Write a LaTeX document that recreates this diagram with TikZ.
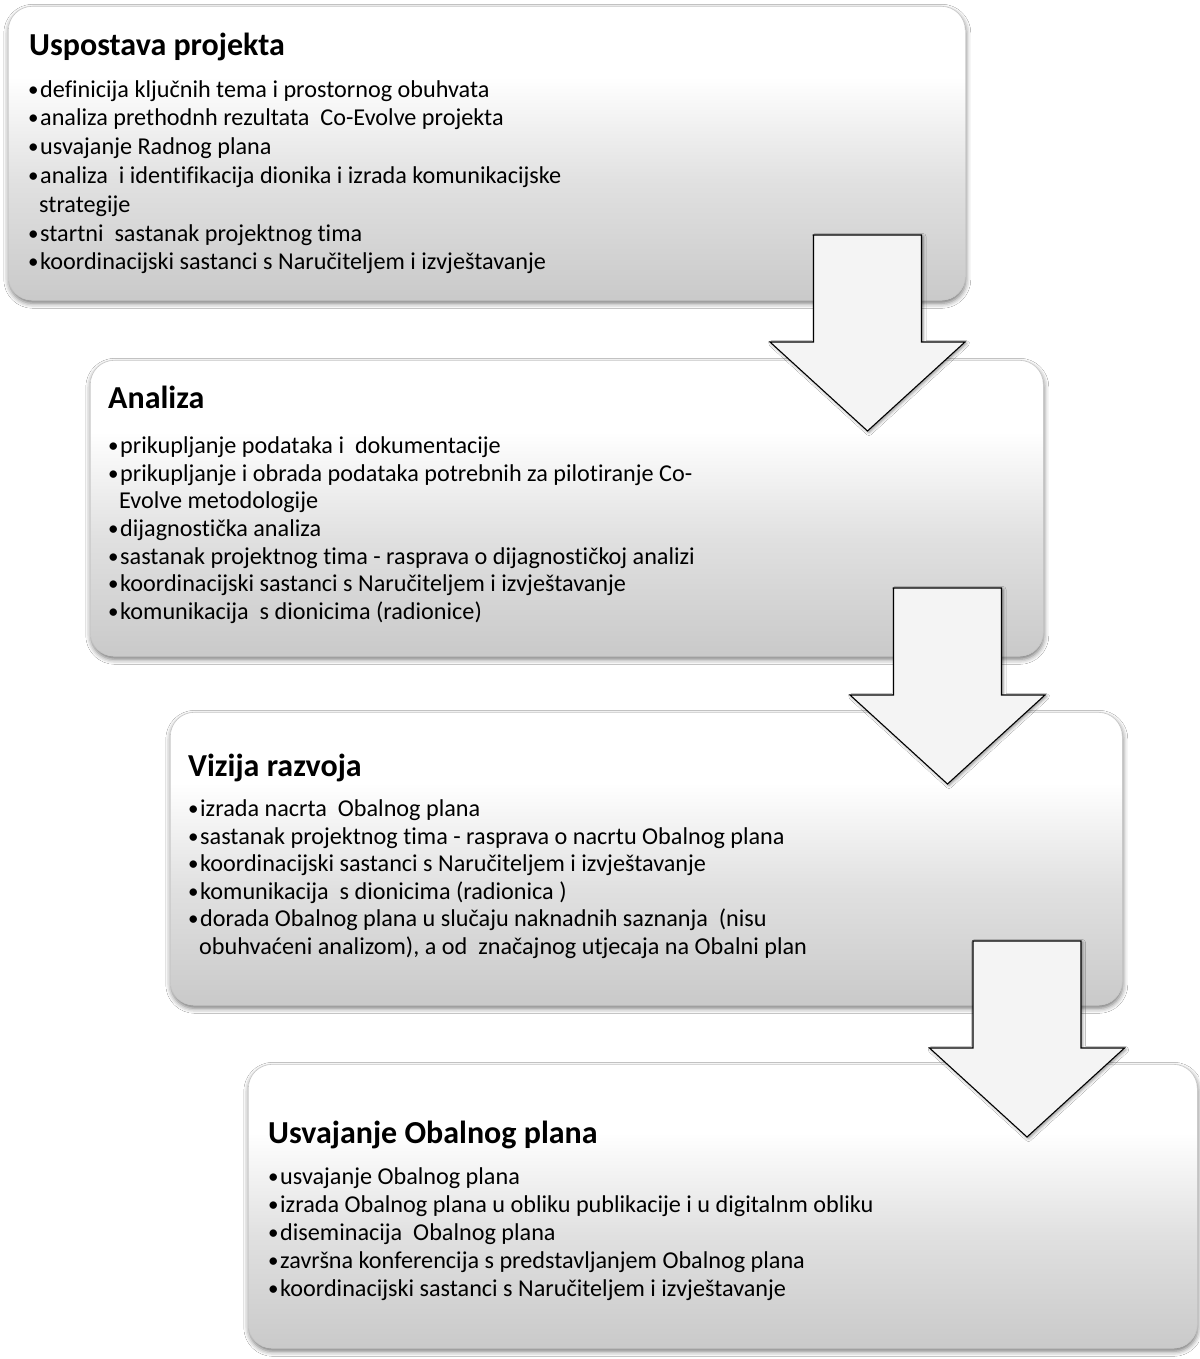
\documentclass[tikz,border=0pt]{standalone}
\usepackage{fontspec}
\setmainfont{Carlito}[Ligatures=NoCommon]
\usetikzlibrary{shadows.blur}

\definecolor{panelbottom}{gray}{0.79}
\definecolor{panelmid}{gray}{0.88}
\definecolor{panelline}{gray}{0.78}
\definecolor{arrowfill}{gray}{0.955}

% bottom (25bp) ... top (75bp) of the panel
\pgfdeclareverticalshading{panelshade}{100bp}{%
  color(0bp)=(panelbottom); color(25bp)=(panelbottom);
  color(45bp)=(panelmid); color(63bp)=(white); color(100bp)=(white)}

\tikzset{
  panel/.style={rectangle, rounded corners=24pt, anchor=north west,
    draw=panelline, line width=0.6pt, shading=panelshade,
    blur shadow={shadow xshift=0.5pt, shadow yshift=-3pt,
      shadow blur radius=5pt, shadow opacity=55}},
  blockarrow/.style={draw=black, line width=1.1pt, fill=arrowfill,
    line join=miter,
    blur shadow={shadow xshift=1.5pt, shadow yshift=-1.5pt,
      shadow blur radius=3pt, shadow opacity=45}},
  title/.style={anchor=base west, inner sep=0pt,
    font=\fontsize{32}{38}\bfseries\selectfont},
  item/.style={anchor=base west, inner sep=0pt,
    font=\fontsize{24.2}{29}\selectfont},
}
% list bullet with its hanging gap
\newcommand\bul{\makebox[12pt][l]{\raisebox{1pt}{\fontsize{21}{22}\selectfont •}}}

\begin{document}
\begin{tikzpicture}[x=1pt, y=-1pt]
\fill[white] (0,0) rectangle (1199,1359);
\useasboundingbox (0,0) rectangle (1199,1359);

% four phase panels
\node[panel, minimum width=957pt, minimum height=294pt] (p1) at (8,6) {};
\node[panel, minimum width=953pt, minimum height=296pt] (p2) at (90,360) {};
\node[panel, minimum width=952pt, minimum height=293pt] (p3) at (170,712) {};
\node[panel, minimum width=949pt, minimum height=284pt] (p4) at (248,1064) {};

% phase 1
\node[title] (t1) at (29,56) {Uspostava projekta};
\node[item] (a1) at (28,98) {\bul definicija ključnih tema i prostornog obuhvata};
\node[item] (a2) at (28,126) {\bul analiza prethodnh rezultata\ \ Co-Evolve projekta};
\node[item] (a3) at (28,155) {\bul usvajanje Radnog plana};
\node[item] (a4) at (28,183) {\bul analiza\ \ i identifikacija dionika i izrada komunikacijske};
\node[item] (a4b) at (39,212) {strategije};
\node[item] (a5) at (28,241) {\bul startni\ \ sastanak projektnog tima};
\node[item] (a6) at (28,269) {\bul koordinacijski sastanci s Naručiteljem i izvještavanje};

% phase 2
\node[title] (t2) at (108,408) {Analiza};
\node[item] (b1) at (108,453) {\bul prikupljanje podataka i\ \ dokumentacije};
\node[item] (b2) at (108,481) {\bul prikupljanje i obrada podataka potrebnih za pilotiranje Co-};
\node[item] (b2b) at (119,508) {Evolve metodologije};
\node[item] (b3) at (108,536) {\bul dijagnostička analiza};
\node[item] (b4) at (108,564) {\bul sastanak projektnog tima - rasprava o dijagnostičkoj analizi};
\node[item] (b5) at (108,591) {\bul koordinacijski sastanci s Naručiteljem i izvještavanje};
\node[item] (b6) at (108,619) {\bul komunikacija\ \ s dionicima (radionice)};

% phase 3
\node[title] (t3) at (188,776) {Vizija razvoja};
\node[item] (c1) at (188,816) {\bul izrada nacrta\ \ Obalnog plana};
\node[item] (c2) at (188,844) {\bul sastanak projektnog tima - rasprava o nacrtu Obalnog plana};
\node[item] (c3) at (188,871) {\bul koordinacijski sastanci s Naručiteljem i izvještavanje};
\node[item] (c4) at (188,899) {\bul komunikacija\ \ s dionicima (radionica )};
\node[item] (c5) at (188,926) {\bul dorada Obalnog plana u slučaju naknadnih saznanja\ \ (nisu};
\node[item] (c5b) at (199,954) {obuhvaćeni analizom), a od\ \ značajnog utjecaja na Obalni plan};

% phase 4
\node[title] (t4) at (268,1143) {Usvajanje Obalnog plana};
\node[item] (d1) at (268,1184) {\bul usvajanje Obalnog plana};
\node[item] (d2) at (268,1212) {\bul izrada Obalnog plana u obliku publikacije i u digitalnm obliku};
\node[item] (d3) at (268,1240) {\bul diseminacija\ \ Obalnog plana};
\node[item] (d4) at (268,1268) {\bul završna konferencija s predstavljanjem Obalnog plana};
\node[item] (d5) at (268,1296) {\bul koordinacijski sastanci s Naručiteljem i izvještavanje};

% block arrows between the phases
\foreach \cx/\ty in {867.5/235, 947.5/588, 1027/941}{
  \begin{scope}[shift={(\cx,\ty)}]
    \path[blockarrow] (-54,0) -- (54,0) -- (54,107) -- (97.5,107)
      -- (0,196) -- (-97.5,107) -- (-54,107) -- cycle;
  \end{scope}
}
\end{tikzpicture}
\end{document}
